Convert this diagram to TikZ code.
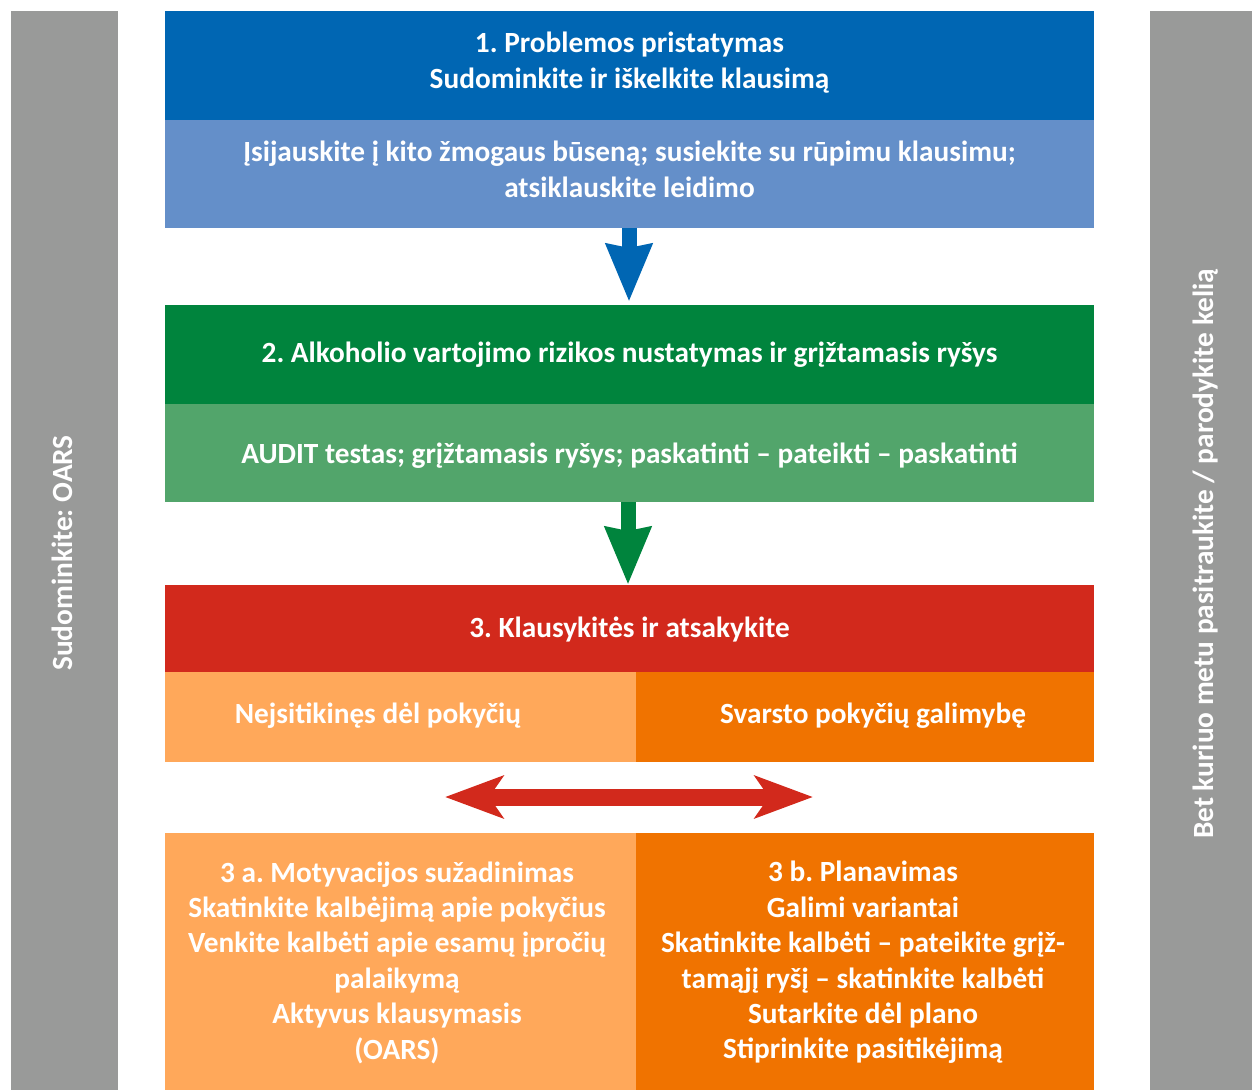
\documentclass[tikz,border=0pt]{standalone}
\usepackage{fontspec}
\setmainfont{Carlito}
\usetikzlibrary{arrows.meta}
\frenchspacing
\definecolor{cblue}{HTML}{0066B3}
\definecolor{cblueL}{HTML}{648FC9}
\definecolor{cgreen}{HTML}{00843D}
\definecolor{cgreenL}{HTML}{52A56B}
\definecolor{cred}{HTML}{D2291C}
\definecolor{corL}{HTML}{FFA85A}
\definecolor{cor}{HTML}{F07300}
\definecolor{cgrey}{HTML}{999A99}
\tikzset{
  box/.style={rectangle, inner sep=0pt, outer sep=0pt, anchor=north west, align=center, text=white},
  txt/.style={inner sep=0pt, align=center, text=white, font=\fontsize{29.3}{35.4}\selectfont\bfseries},
  htxt/.style={txt, yshift=-1.5pt},
  varrow/.style={line width=15pt, -{Stealth[length=57pt,width=44pt,inset=3pt]}},
  harrow/.style={line width=17pt, {Stealth[length=58pt,width=42pt,inset=14pt]}-{Stealth[length=58pt,width=42pt,inset=14pt]}}
}
\begin{document}
\frenchspacing
\begin{tikzpicture}[x=1pt,y=-1pt]
\useasboundingbox (0,0) rectangle (1252,1090);
% side bars
\node[box, fill=cgrey, minimum width=107pt, minimum height=1079pt] (lbar) at (11,11) {};
\node[box, fill=cgrey, minimum width=102pt, minimum height=1079pt] (rbar) at (1150,11) {};
\node[txt, rotate=90] (ltext) at (62,553) {Sudominkite: OARS};
\node[txt, rotate=90] (rtext) at (1206,554) {Bet kuriuo metu pasitraukite / parodykite kelią};
% step 1
\node[box, fill=cblue, minimum width=929pt, minimum height=109pt] (b1a) at (165,11) {};
\node[htxt] (t1a) at (629.5,61) {1. Problemos pristatymas\\Sudominkite ir iškelkite klausimą};
\node[box, fill=cblueL, minimum width=929pt, minimum height=108pt] (b1b) at (165,120) {};
\node[htxt] (t1b) at (629.5,168) {Įsijauskite į kito žmogaus būseną; susiekite su rūpimu klausimu;\\atsiklauskite leidimo};
% step 2
\node[box, fill=cgreen, minimum width=929pt, minimum height=99pt] (b2a) at (165,305) {};
\node[htxt] (t2a) at (629.5,353) {2. Alkoholio vartojimo rizikos nustatymas ir grįžtamasis ryšys};
\node[box, fill=cgreenL, minimum width=929pt, minimum height=98pt] (b2b) at (165,404) {};
\node[htxt] (t2b) at (629.5,454) {AUDIT testas; grįžtamasis ryšys; paskatinti – pateikti – paskatinti};
% step 3
\node[box, fill=cred, minimum width=929pt, minimum height=87pt] (b3) at (165,585) {};
\node[htxt] (t3) at (629.5,628) {3. Klausykitės ir atsakykite};
\node[box, fill=corL, minimum width=471pt, minimum height=90pt] (b3l) at (165,672) {};
\node[box, fill=cor, minimum width=458pt, minimum height=90pt] (b3r) at (636,672) {};
\node[htxt] (t3l) at (378,714) {Nejsitikinęs dėl pokyčių};
\node[htxt] (t3r) at (873,714) {Svarsto pokyčių galimybę};
% step 3a/3b
\node[box, fill=corL, minimum width=471pt, minimum height=257pt] (b4l) at (165,833) {};
\node[box, fill=cor, minimum width=458pt, minimum height=257pt] (b4r) at (636,833) {};
\node[htxt] (t4l) at (397,961) {3 a. Motyvacijos sužadinimas\\Skatinkite kalbėjimą apie pokyčius\\Venkite kalbėti apie esamų įpročių\\palaikymą\\Aktyvus klausymasis\\(OARS)};
\node[htxt] (t4r) at (863,961) {3 b. Planavimas\\Galimi variantai\\Skatinkite kalbėti – pateikite grįž-\\tamąjį ryšį – skatinkite kalbėti\\Sutarkite dėl plano\\Stiprinkite pasitikėjimą};
% arrows
\draw[varrow, cblue, shorten >=3pt] (b1b.south -| 629,0) -- (b2a.north -| 629,0);
\draw[varrow, cgreen] (b2b.south -| 628,0) -- (b3.north -| 628,0);
\coordinate (hl) at (445,797);
\coordinate (hr) at (813,797);
\draw[harrow, cred] (hl) -- (hr);
\end{tikzpicture}
\end{document}
